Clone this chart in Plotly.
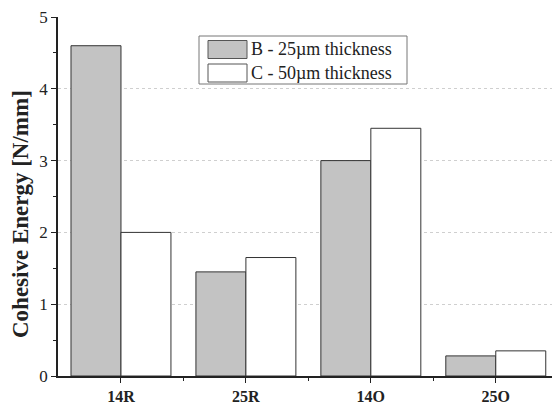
import plotly.graph_objects as go

categories = ["14R", "25R", "14O", "25O"]
series_b = [4.6, 1.45, 3.0, 0.28]
series_c = [2.0, 1.65, 3.45, 0.35]
name_b = "B - 25µm thickness"
name_c = "C - 50µm thickness"
y_title = "Cohesive Energy [N/mm]"
xpos = list(range(len(categories)))

FONT = "Liberation Serif, Times New Roman, serif"

fig = go.Figure()
fig.add_trace(go.Bar(x=xpos, y=series_b, name=name_b, marker=dict(color="#c3c3c3", line=dict(color="#333333", width=1)), showlegend=False))
fig.add_trace(go.Bar(x=xpos, y=series_c, name=name_c, marker=dict(color="#ffffff", line=dict(color="#333333", width=1)), showlegend=False))

fig.update_layout(
    width=552, height=406,
    margin=dict(l=58, r=0, t=17, b=30),
    paper_bgcolor="white", plot_bgcolor="white",
    barmode="group", bargap=0.2, bargroupgap=0,
    font=dict(family=FONT, color="#222222", size=16),
)
fig.update_xaxes(
    range=[-0.504, 3.45], tickmode="array", tickvals=xpos, ticktext=categories,
    tickfont=dict(family=FONT, size=16, weight="bold"),
    showline=True, linecolor="#222222", linewidth=1.5,
    ticks="outside", ticklen=5, tickcolor="#222222", showgrid=False, zeroline=False,
    minor=dict(tickmode="array", tickvals=[0.5, 1.5, 2.5], ticks="outside", ticklen=3, tickcolor="#222222"),
)
fig.update_yaxes(
    range=[0, 5], tickmode="array", tickvals=[0, 1, 2, 3, 4, 5],
    tickfont=dict(family=FONT, size=17),
    showline=True, linecolor="#222222", linewidth=1.5,
    ticks="outside", ticklen=5, tickcolor="#222222",
    showgrid=True, gridcolor="#cfcfcf", griddash="dot", gridwidth=1, zeroline=False,
    minor=dict(tickmode="array", tickvals=[0.5, 1.5, 2.5, 3.5, 4.5], ticks="outside", ticklen=3, tickcolor="#222222"),
)

PL, PR, PT, PB = 58, 552, 17, 376
def fx(x): return (x - PL) / (PR - PL)
def fy(y): return (PB - y) / (PB - PT)

# y-axis title as annotation (positioned slightly below plot center like the reference)
fig.add_annotation(xref="paper", yref="paper", x=fx(21), y=fy(214), text="<b>" + y_title + "</b>",
                   textangle=-90, showarrow=False, xanchor="center", yanchor="middle",
                   font=dict(family=FONT, size=23, color="#222222"))

# manual legend (box with wide swatches)
fig.add_shape(type="rect", xref="paper", yref="paper", x0=fx(199), x1=fx(407), y0=fy(84), y1=fy(36),
              line=dict(color="#777777", width=1), fillcolor="white")
entries = [(name_b, "#c3c3c3", 49.5), (name_c, "#ffffff", 73)]
for name, col, yc in entries:
    fig.add_shape(type="rect", xref="paper", yref="paper",
                  x0=fx(208), x1=fx(247), y0=fy(yc + 9), y1=fy(yc - 9),
                  line=dict(color="#555555", width=1), fillcolor=col)
    fig.add_annotation(xref="paper", yref="paper", x=fx(249), y=fy(yc), text=name,
                       showarrow=False, xanchor="left", yanchor="middle",
                       font=dict(family=FONT, size=18, color="#222222"))

fig.write_html("out.html")
